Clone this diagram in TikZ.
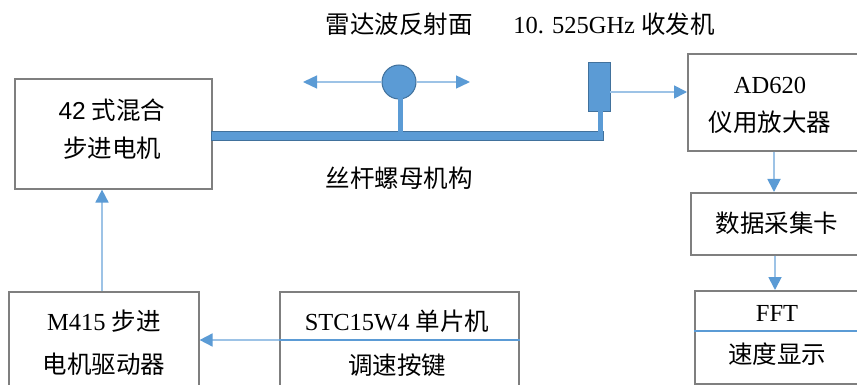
\documentclass[tikz,border=0pt]{standalone}
\usepackage{fontspec}
\setmainfont{Liberation Serif}
\newfontfamily\cjk{Noto Sans CJK SC}
\newfontfamily\lsans{Liberation Sans}
\usetikzlibrary{arrows.meta}
\definecolor{bfill}{HTML}{5B9BD5}
\definecolor{bdark}{HTML}{41719C}
\definecolor{bline}{HTML}{9DC3E6}
\definecolor{gbox}{HTML}{7F7F7F}
\begin{document}
\begin{tikzpicture}[x=1pt,y=-1pt,
  box/.style={draw=gbox, line width=1.6pt, fill=white, anchor=north west, inner sep=0pt},
  txt/.style={inner sep=0pt, font=\fontsize{24.5}{28}\selectfont},
  conn/.style={draw=bline, line width=1.8pt, -{Triangle[length=13pt,width=13pt,color=bfill]}},
  sconn/.style={draw=bline, line width=1.4pt, -{Triangle[length=14pt,width=13pt,color=bfill]}},
  divline/.style={draw=bfill, line width=1.6pt},
  blue/.style={fill=bfill, draw=bdark, line width=1pt}]
\clip (0,0) rectangle (857,385);
\fill[white] (0,0) rectangle (857,385);
% boxes
\node[box, minimum width=197pt, minimum height=110pt] (motor) at (14,78) {};
\node[box, minimum width=190pt, minimum height=97pt] (ad) at (687,53) {};
\node[box, minimum width=190pt, minimum height=62pt] (dc) at (690,192) {};
\node[box, minimum width=190pt, minimum height=93pt] (fft) at (694,290) {};
\node[box, minimum width=190pt, minimum height=120pt] (drv) at (8,291) {};
\node[box, minimum width=239pt, minimum height=120pt] (stc) at (279,291) {};
% dividers
\draw[divline] (fft.west |- 0,331) -- (fft.east |- 0,331);
\draw[divline] (stc.west |- 0,340) -- (stc.east |- 0,340);
% rail
\node[blue, anchor=north west, inner sep=0pt, minimum width=392pt, minimum height=9pt] (rail) at (211,131) {};
\node[blue, anchor=north west, inner sep=0pt, minimum width=22pt, minimum height=49pt] (tx) at (588,62) {};
\node[blue, circle, inner sep=0pt, minimum size=34pt] (refl) at (399,82) {};
\fill[bfill] (598,111) rectangle (603,132);
\fill[bfill] (397.5,98) rectangle (402.5,132);
% arrows at the reflector
\coordinate (lt) at (303,82);
\coordinate (rt) at (470,82);
\draw[sconn] (refl.west) -- (lt);
\draw[sconn] (refl.east) -- (rt);
% connectors
\coordinate (txo) at (610,92);
\draw[conn] (txo) -- (txo -| ad.west);
\draw[conn] (ad.south -| 774,0) -- (dc.north -| 774,0);
\draw[conn] (dc.south -| 775,0) -- (fft.north -| 775,0);
\draw[conn] (stc.west |- 0,340) -- (drv.east |- 0,340);
\draw[conn] (drv.north -| 102,0) -- (motor.south -| 102,0);
% texts
\node[txt] (t1a) at (112,110) {{\lsans 42} {\cjk 式混合}};
\node[txt] (t1b) at (112,148) {\cjk 步进电机};
\node[txt] (ad1) at (770,85) {AD620};
\node[txt] (ad2) at (770,122) {\cjk 仪用放大器};
\node[txt] (dct) at (777,223) {\cjk 数据采集卡};
\node[txt] (f1) at (777,313) {FFT};
\node[txt] (f2) at (777,354) {\cjk 速度显示};
\node[txt] (m1) at (104,321) {M415 {\cjk 步进}};
\node[txt] (m2) at (104,364) {\cjk 电机驱动器};
\node[txt] (s1) at (397,321) {STC15W4 {\cjk 单片机}};
\node[txt] (s2) at (397,365) {\cjk 调速按键};
\node[txt] (top1) at (399,24) {\cjk 雷达波反射面};
\node[txt] (top2) at (614,24) {10. 525GHz {\cjk 收发机}};
\node[txt] (scr) at (399,178) {\cjk 丝杆螺母机构};
\end{tikzpicture}
\end{document}
